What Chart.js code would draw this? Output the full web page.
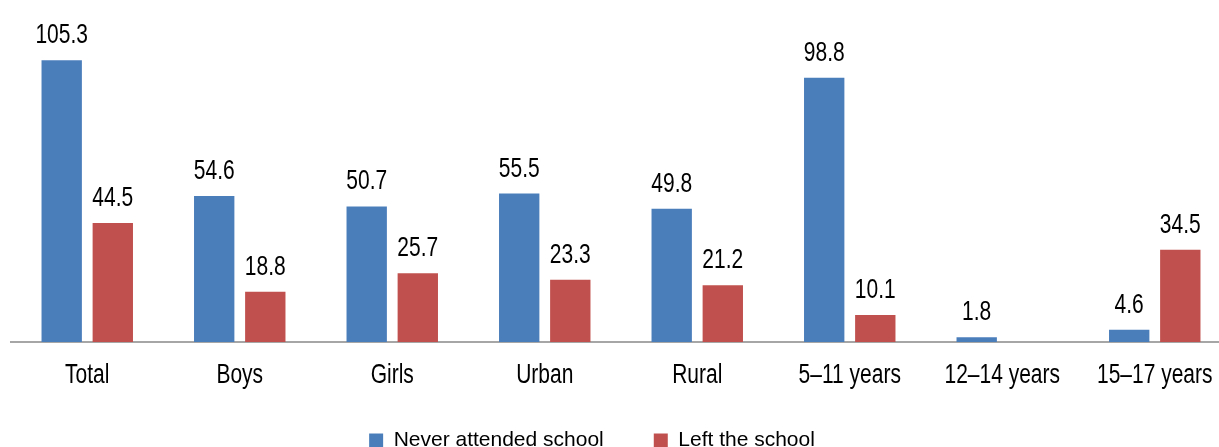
<!DOCTYPE html>
<html>
<head>
<meta charset="utf-8">
<script src="https://cdn.jsdelivr.net/npm/chart.js@4.4.1/dist/chart.umd.min.js"></script>
<style>
  html, body { margin: 0; padding: 0; background: #fff; overflow: hidden; }
  #wrap { position: relative; width: 1231px; height: 461px; }
</style>
</head>
<body>
<div id="wrap"><canvas id="chart"></canvas></div>
<script>
// values
const categories = ["Total", "Boys", "Girls", "Urban", "Rural", "5–11 years", "12–14 years", "15–17 years"];
const neverAttended = [105.3, 54.6, 50.7, 55.5, 49.8, 98.8, 1.8, 4.6];
const leftSchool = [44.5, 18.8, 25.7, 23.3, 21.2, 10.1, null, 34.5];

const FONT = "'Liberation Sans', Arial, sans-serif";
const STRETCH = 1.3; // source font is a tall, narrow face

function tallText(ctx, txt, x, y) {
    ctx.save();
    ctx.translate(x, y);
    ctx.scale(1, STRETCH);
    ctx.fillText(txt, 0, 0);
    ctx.restore();
}

// value labels above the bars + category labels under the axis
const textPlugin = {
    id: "textPlugin",
    afterLayout(chart) {
        // nudge legend to the left like the original
        chart.legend.left -= 29;
        chart.legend.right -= 29;
    },
    afterDraw(chart) {
        const ctx = chart.ctx;
        ctx.save();
        ctx.font = "21px " + FONT;
        ctx.fillStyle = "#000";
        ctx.textAlign = "center";
        ctx.textBaseline = "alphabetic";
        chart.data.datasets.forEach((ds, i) => {
            chart.getDatasetMeta(i).data.forEach((bar, j) => {
                const v = ds.data[j];
                if (v === null || v === undefined) return;
                tallText(ctx, v.toFixed(1), bar.x, bar.y - 17);
            });
        });
        const xs = chart.scales.x;
        categories.forEach((c, i) => {
            tallText(ctx, c, xs.getPixelForValue(i), chart.chartArea.bottom + 41);
        });
        ctx.restore();
    }
};

new Chart(document.getElementById("chart"), {
    type: "bar",
    data: {
        labels: categories,
        datasets: [
            {
                label: "Never attended school",
                data: neverAttended,
                backgroundColor: "#4a7ebb",
                categoryPercentage: 0.67,
                barPercentage: 0.79
            },
            {
                label: "Left the school",
                data: leftSchool,
                backgroundColor: "#c0504d",
                categoryPercentage: 0.67,
                barPercentage: 0.79
            }
        ]
    },
    options: {
        responsive: true,
        maintainAspectRatio: false,
        animation: false,
        layout: { padding: { top: 21, left: 11, right: 0, bottom: 0 } },
        plugins: {
            tooltip: { enabled: false },
            legend: {
                position: "bottom",
                labels: {
                    font: { family: FONT, size: 21 },
                    color: "#000",
                    boxWidth: 14,
                    boxHeight: 14,
                    padding: 50
                }
            }
        },
        scales: {
            x: {
                grid: { display: false },
                border: { display: true, color: "#a6a6a6", width: 2 },
                ticks: { display: false },
                afterFit: s => { s.height = 38; }
            },
            y: {
                display: false,
                min: 0,
                max: 120
            }
        }
    },
    plugins: [textPlugin]
});
</script>
</body>
</html>
